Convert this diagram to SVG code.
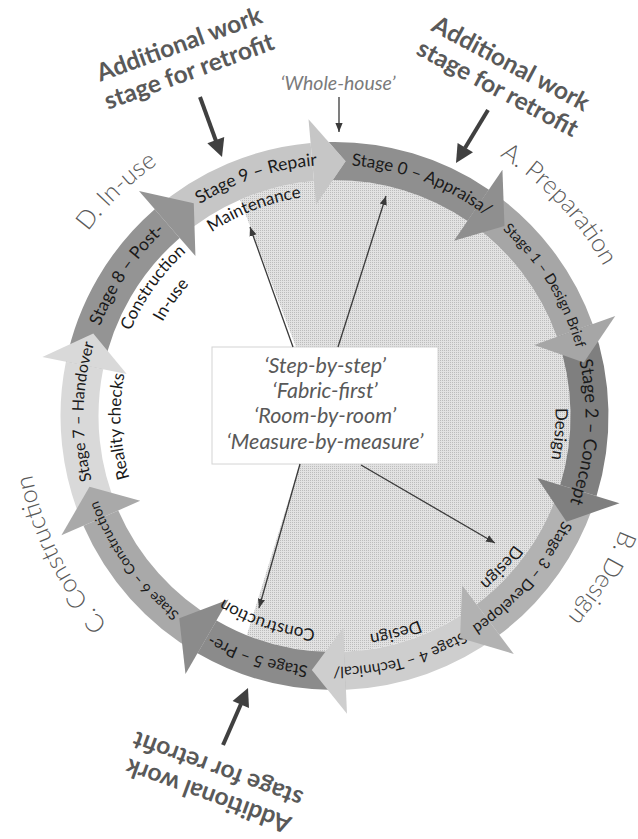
<svg xmlns="http://www.w3.org/2000/svg" width="638" height="839" viewBox="0 0 638 839">
<style>
.lbl{font-family:Lato,"Open Sans","Liberation Sans",sans-serif;fill:#1a1a1a}
.sub{font-family:Lato,"Open Sans","Liberation Sans",sans-serif;fill:#1a1a1a;font-size:17px}
.phase{font-family:Lato,"Open Sans","Liberation Sans",sans-serif;fill:#595959;font-size:25px;font-weight:300}
.note{font-family:Lato,"Open Sans","Liberation Sans",sans-serif;fill:#595959;font-size:24.5px;font-weight:bold}
.appr{font-family:Lato,"Open Sans","Liberation Sans",sans-serif;fill:#595959;font-size:21.5px;font-style:italic}
.thin{stroke:#3a3a3a;stroke-width:1.3;fill:none;marker-end:url(#ah)}
.thick{stroke:#404040;stroke-width:4;fill:none}
.bighead{fill:#404040}
</style>
<defs>
<pattern id="dots" width="2" height="2" patternUnits="userSpaceOnUse">
<rect width="2" height="2" fill="#e2e2e2"/>
<rect width="1" height="1" fill="#bcbcbc"/>
</pattern>
<marker id="ah" viewBox="0 0 10 10" refX="10" refY="5" markerWidth="9" markerHeight="9" markerUnits="userSpaceOnUse" orient="auto">
<path d="M0,1 L10,5 L0,9 Z" fill="#3a3a3a"/>
</marker>
<path id="c251" d="M334.5,165 A251,251 0 1,1 334.5,667 A251,251 0 1,1 334.5,165 A251,251 0 1,1 334.5,667 A251,251 0 1,1 334.5,165 A251,251 0 1,1 334.5,667 A251,251 0 1,1 334.5,165"/>
<path id="c221" d="M334.5,195 A221,221 0 1,1 334.5,637 A221,221 0 1,1 334.5,195 A221,221 0 1,1 334.5,637 A221,221 0 1,1 334.5,195 A221,221 0 1,1 334.5,637 A221,221 0 1,1 334.5,195"/>
<path id="c214" d="M334.5,202 A214,214 0 1,1 334.5,630 A214,214 0 1,1 334.5,202 A214,214 0 1,1 334.5,630 A214,214 0 1,1 334.5,202 A214,214 0 1,1 334.5,630 A214,214 0 1,1 334.5,202"/>
<path id="c196" d="M334.5,220 A196,196 0 1,1 334.5,612 A196,196 0 1,1 334.5,220 A196,196 0 1,1 334.5,612 A196,196 0 1,1 334.5,220 A196,196 0 1,1 334.5,612 A196,196 0 1,1 334.5,220"/>
<path id="c308" d="M334.5,108 A308,308 0 1,1 334.5,724 A308,308 0 1,1 334.5,108 A308,308 0 1,1 334.5,724 A308,308 0 1,1 334.5,108 A308,308 0 1,1 334.5,724 A308,308 0 1,1 334.5,108"/>
</defs>
<rect width="638" height="839" fill="#ffffff"/>

<g id="focus-area">
<path d="M318,405 L240,199.7 A236,236 0 1,1 246.85,635.1 Z" fill="url(#dots)"/>
</g>

<g id="stage9">
<path d="M154.74,209.21 A274,274 0 0 1 310.62,143.04 L313.93,180.9 A236,236 0 0 0 179.67,237.89 Z" fill="#c6c6c6"/>
<polygon points="316.02,204.81 308.53,119.14 345.62,161.24" fill="#c6c6c6"/>
<text class="lbl" font-size="17.5"><textPath href="#c251" startOffset="3073.1" text-anchor="middle">Stage 9 – Repair</textPath></text>
<text class="sub"><textPath href="#c221" startOffset="2694.2" text-anchor="middle">Maintenance</textPath></text>
</g>
<g id="stage8">
<path d="M65.91,361.84 A274,274 0 0 1 154.74,209.21 L179.67,237.89 A236,236 0 0 0 103.16,369.35 Z" fill="#949494"/>
<polygon points="195.42,256 138.99,191.1 193.76,203.36" fill="#949494"/>
<text class="lbl" font-size="17.5"><textPath href="#c251" startOffset="2908.8" text-anchor="middle">Stage 8 – Post-</textPath></text>
<text class="sub"><textPath href="#c221" startOffset="2565" text-anchor="middle">Construction</textPath></text>
<text class="sub"><textPath href="#c196" startOffset="2275.4" text-anchor="middle">In-use</textPath></text>
</g>
<g id="stage7">
<path d="M83.42,525.7 A274,274 0 0 1 65.91,361.84 L103.16,369.35 A236,236 0 0 0 118.24,510.48 Z" fill="#d9d9d9"/>
<polygon points="126.68,374.1 42.38,357.1 93.25,333.4" fill="#d9d9d9"/>
<text class="lbl" font-size="16"><textPath href="#c251" startOffset="2763.1" text-anchor="middle">Stage 7 – Handover</textPath></text>
<text class="sub" font-size="16"><textPath href="#c214" startOffset="2341.8" text-anchor="middle">Reality checks</textPath></text>
</g>
<g id="stage6">
<path d="M197.5,653.29 A274,274 0 0 1 83.42,525.7 L118.24,510.48 A236,236 0 0 0 216.5,620.38 Z" fill="#a9a9a9"/>
<polygon points="140.23,500.87 61.42,535.3 89.5,486.71" fill="#a9a9a9"/>
<text class="lbl" font-size="14"><textPath href="#c251" startOffset="2602.2" text-anchor="middle">Stage 6 – Construction</textPath></text>
</g>
<g id="stage5">
<path d="M345.98,689.76 A274,274 0 0 1 197.5,653.29 L216.5,620.38 A236,236 0 0 0 344.38,651.79 Z" fill="#8b8b8b"/>
<polygon points="228.5,599.6 185.5,674.08 179.27,618.3" fill="#8b8b8b"/>
<text class="lbl" font-size="16.5"><textPath href="#c251" startOffset="2442.3" text-anchor="middle">Stage 5 – Pre-</textPath></text>
<text class="sub"><textPath href="#c214" startOffset="2084.1" text-anchor="middle">Construction</textPath></text>
</g>
<g id="stage4">
<path d="M499.4,634.83 A274,274 0 0 1 345.98,689.76 L344.38,651.79 A236,236 0 0 0 476.53,604.48 Z" fill="#cecece"/>
<polygon points="343.38,627.81 346.98,713.74 311.83,669.99" fill="#cecece"/>
<text class="lbl" font-size="15.5"><textPath href="#c251" startOffset="2297.7" text-anchor="middle">Stage 4 – Technical/</textPath></text>
<text class="sub"><textPath href="#c221" startOffset="2021.2" text-anchor="middle">Design</textPath></text>
</g>
<g id="stage3">
<path d="M596.53,496.11 A274,274 0 0 1 499.4,634.83 L476.53,604.48 A236,236 0 0 0 560.19,485 Z" fill="#b2b2b2"/>
<polygon points="462.09,585.31 513.84,653.99 460.07,637.94" fill="#b2b2b2"/>
<text class="lbl" font-size="15.5"><textPath href="#c251" startOffset="2148.8" text-anchor="middle">Stage 3 – Developed</textPath></text>
<text class="sub" font-size="16"><textPath href="#c221" startOffset="1897.8" text-anchor="middle">Design</textPath></text>
</g>
<g id="stage2">
<path d="M592.62,324.09 A274,274 0 0 1 596.53,496.11 L560.19,485 A236,236 0 0 0 556.83,336.83 Z" fill="#7f7f7f"/>
<polygon points="537.24,477.98 619.48,503.13 566.54,521.75" fill="#7f7f7f"/>
<text class="lbl" font-size="18"><textPath href="#c251" startOffset="1986.7" text-anchor="middle">Stage 2 – Concept</textPath></text>
<text class="sub"><textPath href="#c221" startOffset="1752.7" text-anchor="middle">Design</textPath></text>
</g>
<g id="stage1">
<path d="M488.91,189.65 A274,274 0 0 1 592.62,324.09 L556.83,336.83 A236,236 0 0 0 467.49,221.04 Z" fill="#a6a6a6"/>
<polygon points="534.22,344.88 615.23,316.04 583.83,362.55" fill="#a6a6a6"/>
<text class="lbl" font-size="14.5"><textPath href="#c251" startOffset="1831.2" text-anchor="middle">Stage 1 – Design Brief</textPath></text>
</g>
<g id="stage0">
<path d="M328.72,142.06 A274,274 0 0 1 488.91,189.65 L467.49,221.04 A236,236 0 0 0 332.87,180.01 L345.62,161.24 Z" fill="#8f8f8f"/>
<polygon points="453.97,240.87 502.43,169.82 504.47,225.9" fill="#8f8f8f"/>
<text class="lbl" font-size="17"><textPath href="#c251" startOffset="1666.5" text-anchor="middle">Stage 0 – Appraisa/</textPath></text>
</g>

<g id="phaseA"><text class="phase"><textPath href="#c308" startOffset="2185.2" text-anchor="middle">A. Preparation</textPath></text></g>
<g id="phaseB"><text class="phase"><textPath href="#c308" startOffset="2585.7" text-anchor="middle">B. Design</textPath></text></g>
<g id="phaseC"><text class="phase"><textPath href="#c308" startOffset="3241.5" text-anchor="middle">C. Construction</textPath></text></g>
<g id="phaseD"><text class="phase"><textPath href="#c308" startOffset="3631.8" text-anchor="middle">D. In-use</textPath></text></g>

<g id="note-top-left">
<text class="note" text-anchor="middle" transform="translate(182,52) rotate(-20)"><tspan x="0" y="0">Additional work</tspan><tspan x="0" y="29">stage for retrofit</tspan></text>
</g>
<g id="note-top-right">
<text class="note" text-anchor="middle" transform="translate(507,71) rotate(28)"><tspan x="0" y="0">Additional work</tspan><tspan x="0" y="28">stage for retrofit</tspan></text>
</g>
<g id="note-bottom">
<text class="note" text-anchor="middle" transform="translate(211,788) rotate(200)"><tspan x="0" y="0">Additional work</tspan><tspan x="0" y="28">stage for retrofit</tspan></text>
</g>

<g id="whole-house">
<text x="338" y="90" text-anchor="middle" font-family="Lato,'Open Sans',sans-serif" font-size="19.5" font-style="italic" fill="#7a7a7a">‘Whole-house’</text>
</g>

<g id="approaches">
<rect x="212" y="347" width="226" height="117" fill="#ffffff" stroke="#d4d4d4" stroke-width="1"/>
<text class="appr" text-anchor="middle"><tspan x="325" y="373">‘Step-by-step’</tspan><tspan x="325" y="398">‘Fabric-first’</tspan><tspan x="325" y="423">‘Room-by-room’</tspan><tspan x="325" y="449">‘Measure-by-measure’</tspan></text>
</g>

<g id="connectors">
<line class="thin" x1="293" y1="347" x2="250" y2="227"/>
<line class="thin" x1="338" y1="347" x2="386" y2="196"/>
<line class="thin" x1="300" y1="464" x2="259" y2="608"/>
<line class="thin" x1="361" y1="465" x2="495" y2="543"/>
<line class="thin" x1="339" y1="97" x2="339" y2="132"/>
<line class="thick" x1="200" y1="97" x2="216" y2="141"/>
<polygon class="bighead" points="207.35,143.2 224.25,137 222,157"/>
<line class="thick" x1="488" y1="110" x2="465" y2="148"/>
<polygon class="bighead" points="457.6,142.95 473,152.25 456,163"/>
<line class="thick" x1="223" y1="745" x2="241" y2="704"/>
<polygon class="bighead" points="249,708.1 232.6,700.9 248,688"/>
</g>
</svg>
